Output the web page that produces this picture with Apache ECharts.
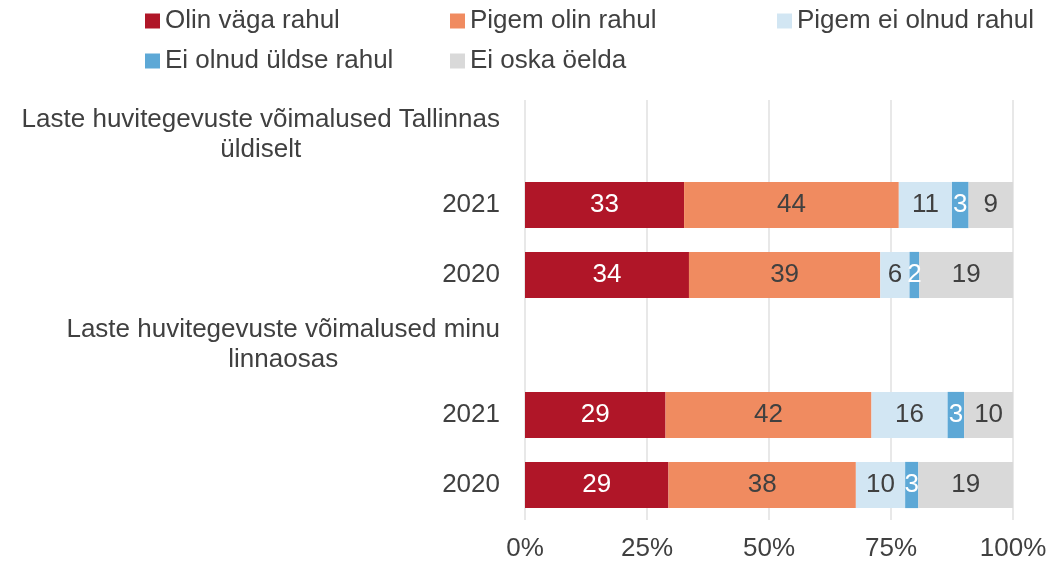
<!DOCTYPE html>
<html>
<head>
<meta charset="utf-8">
<script src="https://cdn.jsdelivr.net/npm/echarts@6/dist/echarts.min.js"></script>
<style>
  html, body { margin: 0; padding: 0; background: #fff; }
  #chart { width: 1055px; height: 562px; }
</style>
</head>
<body>
<div id="chart"></div>
<script>
// Kategooriad (ülevalt alla); pealkirjaread on ilma tulpadeta
const categories = [
    'Laste huvitegevuste võimalused Tallinnas\nüldiselt',
    '2021',
    '2020',
    'Laste huvitegevuste võimalused minu\nlinnaosas',
    '2021',
    '2020'
];
const headerRows = [0, 3];

// Seeriad (%), loetud pildilt
const seriesNames = ['Olin väga rahul', 'Pigem olin rahul', 'Pigem ei olnud rahul', 'Ei olnud üldse rahul', 'Ei oska öelda'];
const olinVaga   = [null, 32.6, 33.6, null, 28.8, 29.4];
const pigemOlin  = [null, 44.0, 39.2, null, 42.2, 38.4];
const pigemEi    = [null, 10.9,  6.0, null, 15.6, 10.1];
const eiUldse    = [null,  3.4,  2.0, null,  3.4,  2.7];
const eiOska     = [null,  9.1, 19.2, null, 10.0, 19.4];

const xTicks = [0, 25, 50, 75, 100];

const colors = ['#B01628', '#F08B60', '#D2E6F3', '#5DA8D6', '#D9D9D9'];
const labelColors = ['#ffffff', '#404040', '#404040', '#ffffff', '#404040'];
const FONT = '"Liberation Sans", Arial, sans-serif';
const TEXT = '#404040';
const FS = 26;

const allValues = [olinVaga, pigemOlin, pigemEi, eiUldse, eiOska];

const chart = echarts.init(document.getElementById('chart'));

const series = seriesNames.map((name, i) => ({
    name: name,
    type: 'bar',
    stack: 'total',
    barCategoryGap: '34%',
    data: allValues[i],
    itemStyle: { color: colors[i] },
    label: {
        show: true,
        position: 'inside',
        color: labelColors[i],
        fontFamily: FONT,
        fontSize: FS,
        formatter: p => (p.value == null ? '' : Math.round(p.value))
    }
}));

// Legend: kolm veergu
const legendBase = {
    orient: 'vertical',
    icon: 'rect',
    itemWidth: 15,
    itemHeight: 15,
    itemGap: 14,
    top: 3,
    textStyle: { color: TEXT, fontFamily: FONT, fontSize: FS }
};

const option = {
    animation: false,
    legend: [
        Object.assign({}, legendBase, { left: 140, data: [seriesNames[0], seriesNames[3]] }),
        Object.assign({}, legendBase, { left: 445, data: [seriesNames[1], seriesNames[4]] }),
        Object.assign({}, legendBase, { left: 772, data: [seriesNames[2]] })
    ],
    grid: { left: 525, right: 42, top: 100, bottom: 42, containLabel: false },
    xAxis: {
        type: 'value',
        min: 0,
        max: 100,
        interval: 25,
        axisLine: { show: false },
        axisTick: { show: false },
        splitLine: { show: true, lineStyle: { color: '#E0E0E0', width: 1.5 } },
        axisLabel: {
            color: TEXT,
            fontFamily: FONT,
            fontSize: FS,
            margin: 16,
            formatter: v => (xTicks.includes(v) ? v + '%' : '')
        }
    },
    yAxis: {
        type: 'category',
        inverse: true,
        data: categories,
        axisLine: { show: false },
        axisTick: { show: false },
        axisLabel: {
            color: TEXT,
            fontFamily: FONT,
            fontSize: FS,
            margin: 25,
            formatter: (v, idx) => {
                if (headerRows.includes(idx)) {
                    return v.split('\n').map(s => '{h|' + s + '}').join('\n');
                }
                return v;
            },
            rich: {
                h: {
                    align: 'center',
                    color: TEXT,
                    fontFamily: FONT,
                    fontSize: FS,
                    lineHeight: 30
                }
            }
        }
    },
    series: series
};

chart.setOption(option);
window.addEventListener('resize', () => chart.resize());
</script>
</body>
</html>
